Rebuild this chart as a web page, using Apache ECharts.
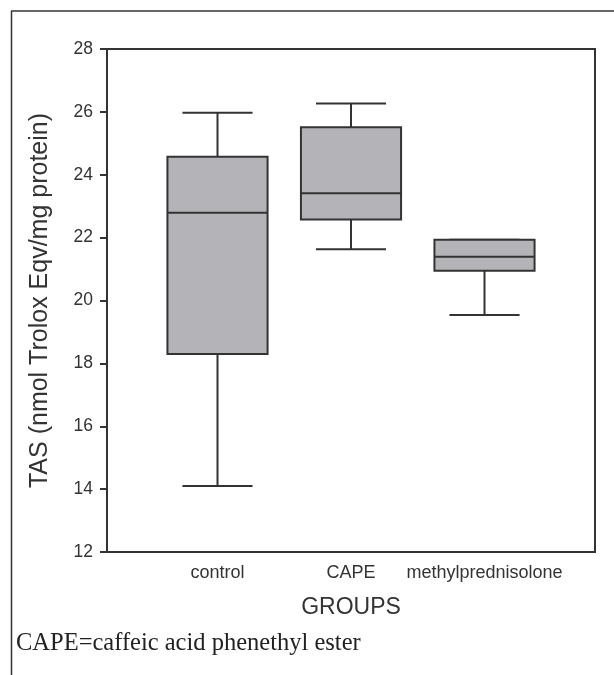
<!DOCTYPE html>
<html>
<head>
<meta charset="utf-8">
<script src="https://cdn.jsdelivr.net/npm/echarts@6/dist/echarts.min.js"></script>
<style>
html,body{margin:0;padding:0;background:#fff;}
#chart{width:614px;height:675px;}
</style>
</head>
<body>
<div id="chart"></div>
<script>
const categories = ['control', 'CAPE', 'methylprednisolone'];
const mins    = [14.1, 21.63, 19.54];
const q1s     = [18.3, 22.58, 20.95];
const medians = [22.79, 23.41, 21.39];
const q3s     = [24.57, 25.51, 21.93];
const maxs    = [25.97, 26.27, 21.93];
const yTicks  = {min: 12, max: 28, interval: 2};
const yTitle  = 'TAS (nmol Trolox Eqv/mg protein)';
const xTitle  = 'GROUPS';
const caption = 'CAPE=caffeic acid phenethyl ester';

const boxData = categories.map((c, i) => [i, mins[i], q1s[i], medians[i], q3s[i], maxs[i]]);

const chart = echarts.init(document.getElementById('chart'), null, {renderer: 'canvas'});
const LINE = '#333333';
const FILL = '#b4b4b8';

function renderBox(params, api) {
  const x = api.value(0);
  const lo = api.value(1), q1 = api.value(2), med = api.value(3), q3 = api.value(4), hi = api.value(5);
  const band = api.size([1, 0])[0];
  const bw = band * 0.75, cw = band * 0.525;
  const pLo = api.coord([x, lo]), pQ1 = api.coord([x, q1]), pMed = api.coord([x, med]);
  const pQ3 = api.coord([x, q3]), pHi = api.coord([x, hi]);
  const cx = pMed[0];
  const st = {stroke: LINE, lineWidth: 2};
  return {
    type: 'group',
    children: [
      {type: 'line', shape: {x1: cx, y1: pHi[1], x2: cx, y2: pQ3[1]}, style: st},
      {type: 'line', shape: {x1: cx, y1: pQ1[1], x2: cx, y2: pLo[1]}, style: st},
      {type: 'line', shape: {x1: cx - cw / 2, y1: pHi[1], x2: cx + cw / 2, y2: pHi[1]}, style: st},
      {type: 'line', shape: {x1: cx - cw / 2, y1: pLo[1], x2: cx + cw / 2, y2: pLo[1]}, style: st},
      {type: 'rect', shape: {x: cx - bw / 2, y: pQ3[1], width: bw, height: pQ1[1] - pQ3[1]},
        style: {fill: FILL, stroke: LINE, lineWidth: 2}},
      {type: 'line', shape: {x1: cx - bw / 2, y1: pMed[1], x2: cx + bw / 2, y2: pMed[1]}, style: st}
    ]
  };
}

const option = {
  backgroundColor: '#ffffff',
  animation: false,
  textStyle: {fontFamily: 'Liberation Sans, Arial, sans-serif'},
  grid: [
    {left: 107, top: 49, right: 19, bottom: 123, show: true, borderColor: LINE, borderWidth: 2, backgroundColor: 'transparent'},
    {left: 150.75, top: 49, width: 400.5, bottom: 123, show: false}
  ],
  xAxis: [
    {type: 'category', gridIndex: 0, data: categories, show: false},
    {
      type: 'category', gridIndex: 1, data: categories,
      axisLine: {show: false}, axisTick: {show: false},
      axisLabel: {interval: 0, fontSize: 18, color: '#333', margin: 12, fontFamily: 'Liberation Sans'},
      name: xTitle, nameLocation: 'middle', nameGap: 44,
      nameTextStyle: {fontSize: 23, color: '#333', fontFamily: 'Liberation Sans'}
    }
  ],
  yAxis: [
    {
      type: 'value', gridIndex: 0, min: yTicks.min, max: yTicks.max, interval: yTicks.interval,
      axisLine: {show: true, lineStyle: {color: LINE, width: 2}},
      axisTick: {show: true, length: 7, lineStyle: {color: LINE, width: 2}},
      splitLine: {show: false},
      axisLabel: {fontSize: 17.5, color: '#333', margin: 14, fontFamily: 'Liberation Sans'},
      name: yTitle, nameLocation: 'middle', nameGap: 54, nameRotate: 90,
      nameTextStyle: {fontSize: 25, color: '#333', fontFamily: 'Liberation Sans'}
    },
    {type: 'value', gridIndex: 1, min: yTicks.min, max: yTicks.max, interval: yTicks.interval, show: false}
  ],
  graphic: [
    {type: 'line', shape: {x1: 11, y1: 11, x2: 614, y2: 11}, style: {stroke: '#333', lineWidth: 1.5}, silent: true},
    {type: 'line', shape: {x1: 11.5, y1: 11, x2: 11.5, y2: 675}, style: {stroke: '#333', lineWidth: 1.5}, silent: true},
    {type: 'text', left: 16, top: 631, style: {text: caption, fontSize: 24.5, fill: '#222', fontFamily: 'Liberation Serif'}, silent: true}
  ],
  series: [{
    type: 'custom',
    xAxisIndex: 1, yAxisIndex: 1,
    renderItem: renderBox,
    encode: {x: 0, y: [1, 2, 3, 4, 5]},
    data: boxData
  }]
};
chart.setOption(option);
</script>
</body>
</html>
